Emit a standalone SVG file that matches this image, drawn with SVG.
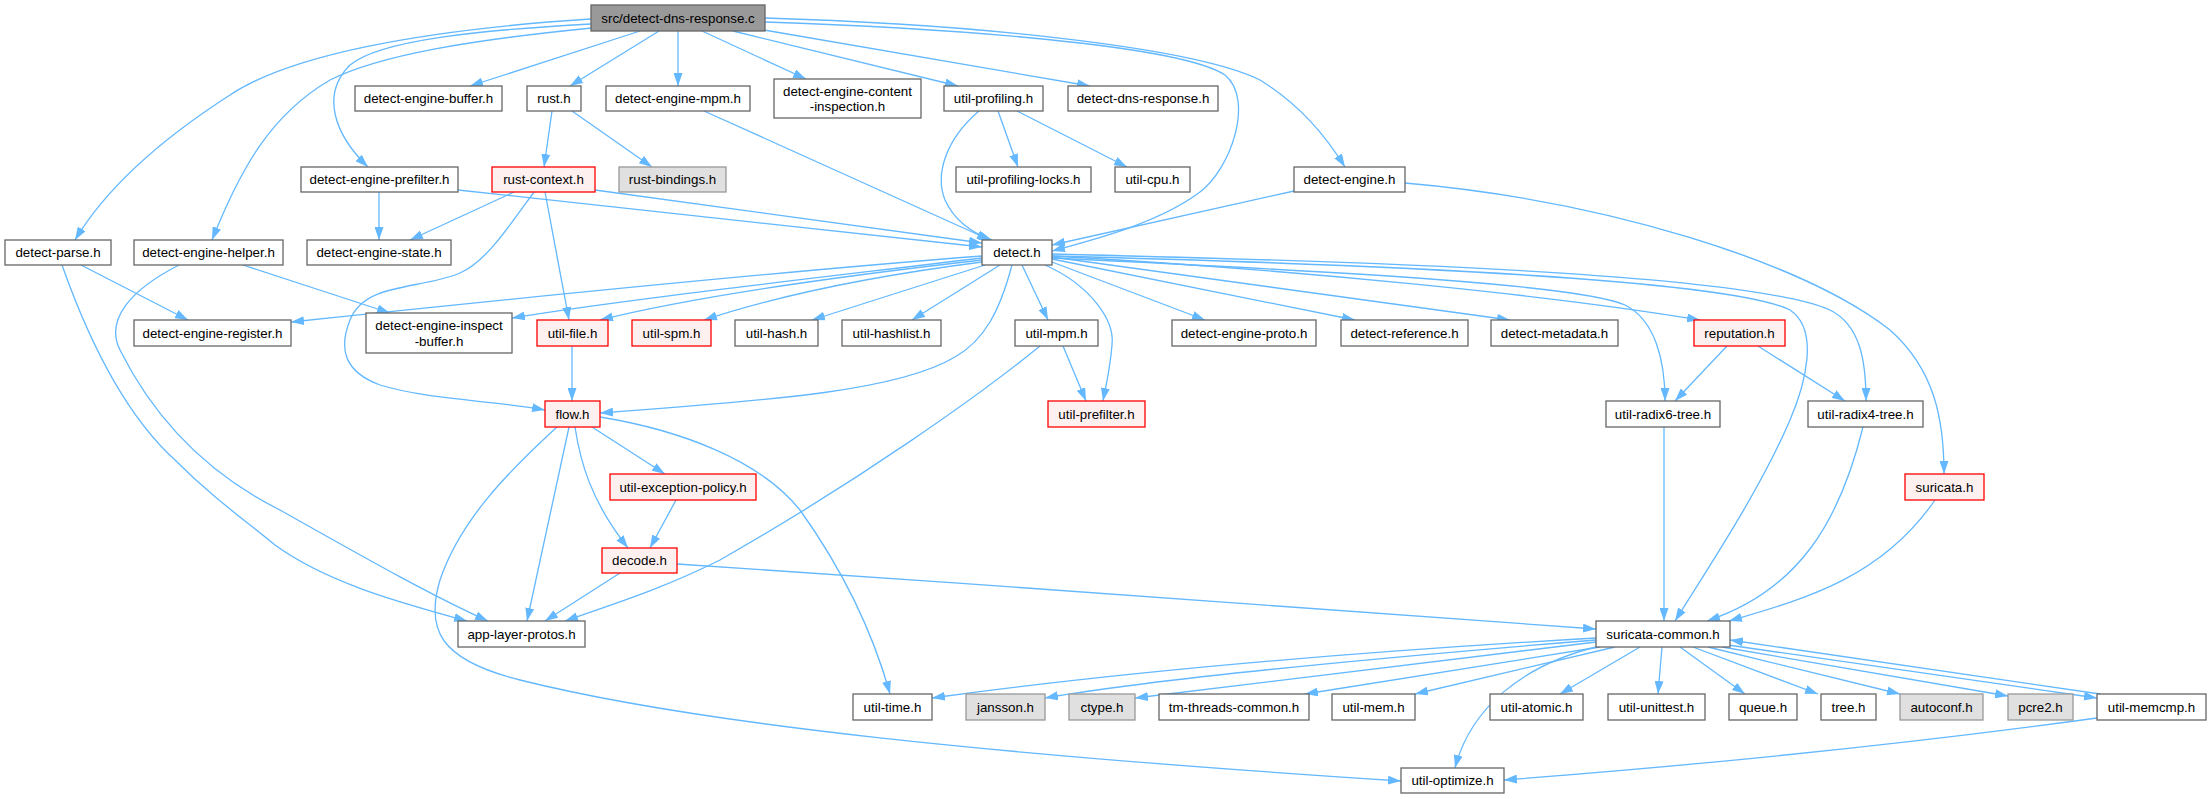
<svg xmlns="http://www.w3.org/2000/svg" width="2211" height="799" viewBox="0 0 2211 799">
<style>
.e path{fill:none;stroke:#63B8FF;stroke-width:1.3;marker-end:url(#a)}
rect{fill:#fff;stroke:#666;stroke-width:1.3}
rect.r{fill:#FFF0F0;stroke:#FF0000}
rect.g{fill:#E0E0E0;stroke:#999}
rect.root{fill:#999;stroke:#666}
text{font-family:"Liberation Sans",Arial,sans-serif;font-size:13.33px;text-anchor:middle;fill:#000}
</style>
<defs>
<marker id="a" viewBox="0 0 13 9" refX="13" refY="4.5" markerWidth="13" markerHeight="9" orient="auto" markerUnits="userSpaceOnUse"><path d="M0,0 L13,4.5 L0,9 z" fill="#63B8FF"/></marker>
</defs>
<rect x="0" y="0" width="2211" height="799" style="fill:#fff;stroke:none"/>
<g id="edges" class="e">
<path d="M591,19 C420,30 290,55 230,95 C160,140 105,190 75,240"/>
<path d="M591,24 C480,30 380,40 350,65 C320,95 335,135 368,167"/>
<path d="M592,28 C470,40 380,55 330,80 C270,115 240,170 212,240"/>
<path d="M640,31 L470,86"/>
<path d="M659,31 L570,86"/>
<path d="M678,31 L678,86"/>
<path d="M702,31 L806,79"/>
<path d="M733,31 L958,86"/>
<path d="M764,30 L1090,86"/>
<path d="M765,22 C950,28 1180,45 1225,75 C1255,100 1230,170 1200,192 C1160,222 1100,238 1052,251"/>
<path d="M765,18 C1000,25 1200,50 1260,80 C1300,105 1325,135 1345,167"/>
<path d="M552,111 L544,167"/>
<path d="M572,111 L652,167"/>
<path d="M704,111 L990,240"/>
<path d="M979,111 C945,140 935,175 945,200 C955,222 975,234 992,240"/>
<path d="M998,111 L1018,167"/>
<path d="M1017,111 L1127,167"/>
<path d="M379,192 L379,240"/>
<path d="M458,190 L982,247"/>
<path d="M595,190 L982,243"/>
<path d="M514,192 L410,240"/>
<path d="M545,192 L569,320"/>
<path d="M534,192 C505,232 485,262 460,273 C420,290 365,282 350,320 C338,350 345,372 380,385 C430,400 490,400 545,410"/>
<path d="M1294,191 L1052,245"/>
<path d="M1405,183 C1600,200 1800,260 1890,330 C1935,370 1944,420 1944,474"/>
<path d="M243,265 L390,313"/>
<path d="M179,265 C130,290 105,320 120,350 C150,410 200,470 280,510 C360,555 430,595 488,621"/>
<path d="M81,265 L188,320"/>
<path d="M62,265 C85,330 120,410 175,460 C215,500 245,520 275,545 C330,585 410,605 467,621"/>
<path d="M982,256 C800,270 500,300 291,322"/>
<path d="M982,258 C800,280 620,300 512,318"/>
<path d="M982,260 C850,275 700,295 600,320"/>
<path d="M982,262 C880,275 780,295 704,320"/>
<path d="M985,265 L812,320"/>
<path d="M1000,265 L912,320"/>
<path d="M1022,265 L1048,320"/>
<path d="M1012,265 C1000,310 985,340 955,357 C900,390 780,400 600,413"/>
<path d="M1045,265 C1090,285 1115,320 1112,345 C1110,370 1106,385 1103,401"/>
<path d="M1052,262 L1205,320"/>
<path d="M1052,259 L1355,320"/>
<path d="M1052,257 L1510,320"/>
<path d="M1052,256 C1300,270 1550,295 1700,320"/>
<path d="M1052,258 C1350,272 1580,285 1625,305 C1655,320 1665,360 1665,401"/>
<path d="M1052,254 C1400,262 1750,275 1830,310 C1860,325 1866,360 1866,401"/>
<path d="M1052,256 C1400,265 1730,280 1790,310 C1820,330 1805,385 1790,420 C1760,490 1710,565 1675,621"/>
<path d="M1727,346 L1675,401"/>
<path d="M1758,346 L1845,401"/>
<path d="M1063,346 L1086,401"/>
<path d="M1040,346 C980,395 860,480 720,560 C660,590 610,605 565,621"/>
<path d="M572,346 L572,401"/>
<path d="M592,427 L665,474"/>
<path d="M575,427 C580,460 590,500 628,548"/>
<path d="M569,427 L527,621"/>
<path d="M600,417 C680,430 760,460 800,510 C850,580 875,640 890,694"/>
<path d="M557,427 C510,470 460,520 440,580 C425,630 440,660 520,680 C700,725 1000,755 1401,781"/>
<path d="M676,500 L650,548"/>
<path d="M620,573 L545,621"/>
<path d="M677,564 C1000,585 1400,615 1596,629"/>
<path d="M1664,427 L1664,621"/>
<path d="M1863,427 C1840,520 1800,590 1707,621"/>
<path d="M1935,500 C1880,580 1800,600 1729,621"/>
<path d="M1596,638 C1300,655 1100,675 932,698"/>
<path d="M1596,640 C1350,660 1150,680 1045,698"/>
<path d="M1596,642 C1400,665 1250,685 1135,698"/>
<path d="M1600,647 L1305,694"/>
<path d="M1615,647 L1415,694"/>
<path d="M1600,646 C1520,665 1470,710 1455,768"/>
<path d="M1640,647 L1560,694"/>
<path d="M1662,647 L1658,694"/>
<path d="M1680,647 L1745,694"/>
<path d="M1693,647 L1818,694"/>
<path d="M1708,647 L1900,694"/>
<path d="M1722,647 L2008,696"/>
<path d="M1728,645 L2097,698"/>
<path d="M2100,694 L1730,640"/>
<path d="M2097,718 C1900,745 1700,765 1504,780"/>
</g>
<g id="n_root"><rect class="root" x="591" y="5" width="174" height="26"/><text x="678" y="22.5">src/detect-dns-response.c</text></g>
<g id="n_deb"><rect x="355" y="86" width="147" height="25"/><text x="428.5" y="103">detect-engine-buffer.h</text></g>
<g id="n_rust"><rect x="527" y="86" width="54" height="25"/><text x="554" y="103">rust.h</text></g>
<g id="n_mpm"><rect x="606" y="86" width="144" height="25"/><text x="678" y="103">detect-engine-mpm.h</text></g>
<g id="n_dci"><rect x="774" y="79" width="147" height="39"/><text x="847.5" y="95.5">detect-engine-content</text><text x="847.5" y="110.5">-inspection.h</text></g>
<g id="n_upr"><rect x="944" y="86" width="99" height="25"/><text x="993.5" y="103">util-profiling.h</text></g>
<g id="n_ddr"><rect x="1068" y="86" width="150" height="25"/><text x="1143" y="103">detect-dns-response.h</text></g>
<g id="n_dep"><rect x="301" y="167" width="157" height="25"/><text x="379.5" y="184">detect-engine-prefilter.h</text></g>
<g id="n_rctx"><rect class="r" x="492" y="167" width="103" height="25"/><text x="543.5" y="184">rust-context.h</text></g>
<g id="n_rb"><rect class="g" x="619" y="167" width="107" height="25"/><text x="672.5" y="184">rust-bindings.h</text></g>
<g id="n_upl"><rect x="956" y="167" width="135" height="25"/><text x="1023.5" y="184">util-profiling-locks.h</text></g>
<g id="n_ucpu"><rect x="1115" y="167" width="75" height="25"/><text x="1152.5" y="184">util-cpu.h</text></g>
<g id="n_de"><rect x="1294" y="167" width="111" height="25"/><text x="1349.5" y="184">detect-engine.h</text></g>
<g id="n_dp"><rect x="5" y="240" width="106" height="25"/><text x="58" y="257">detect-parse.h</text></g>
<g id="n_deh"><rect x="134" y="240" width="149" height="25"/><text x="208.5" y="257">detect-engine-helper.h</text></g>
<g id="n_des"><rect x="307" y="240" width="144" height="25"/><text x="379" y="257">detect-engine-state.h</text></g>
<g id="n_det"><rect x="982" y="240" width="70" height="25"/><text x="1017" y="257">detect.h</text></g>
<g id="n_der"><rect x="134" y="320" width="157" height="26"/><text x="212.5" y="337.5">detect-engine-register.h</text></g>
<g id="n_dib"><rect x="366" y="313" width="146" height="40"/><text x="439" y="330">detect-engine-inspect</text><text x="439" y="345.5">-buffer.h</text></g>
<g id="n_ufile"><rect class="r" x="537" y="320" width="71" height="26"/><text x="572.5" y="337.5">util-file.h</text></g>
<g id="n_uspm"><rect class="r" x="632" y="320" width="79" height="26"/><text x="671.5" y="337.5">util-spm.h</text></g>
<g id="n_uhash"><rect x="735" y="320" width="83" height="26"/><text x="776.5" y="337.5">util-hash.h</text></g>
<g id="n_uhl"><rect x="842" y="320" width="99" height="26"/><text x="891.5" y="337.5">util-hashlist.h</text></g>
<g id="n_umpm"><rect x="1015" y="320" width="83" height="26"/><text x="1056.5" y="337.5">util-mpm.h</text></g>
<g id="n_dept"><rect x="1172" y="320" width="144" height="26"/><text x="1244" y="337.5">detect-engine-proto.h</text></g>
<g id="n_dref"><rect x="1341" y="320" width="127" height="26"/><text x="1404.5" y="337.5">detect-reference.h</text></g>
<g id="n_dmeta"><rect x="1491" y="320" width="127" height="26"/><text x="1554.5" y="337.5">detect-metadata.h</text></g>
<g id="n_rep"><rect class="r" x="1694" y="320" width="91" height="26"/><text x="1739.5" y="337.5">reputation.h</text></g>
<g id="n_flow"><rect class="r" x="545" y="401" width="55" height="26"/><text x="572.5" y="418.5">flow.h</text></g>
<g id="n_upf"><rect class="r" x="1048" y="401" width="97" height="26"/><text x="1096.5" y="418.5">util-prefilter.h</text></g>
<g id="n_r6"><rect x="1606" y="401" width="114" height="26"/><text x="1663" y="418.5">util-radix6-tree.h</text></g>
<g id="n_r4"><rect x="1808" y="401" width="115" height="26"/><text x="1865.5" y="418.5">util-radix4-tree.h</text></g>
<g id="n_uep"><rect class="r" x="610" y="474" width="146" height="26"/><text x="683" y="491.5">util-exception-policy.h</text></g>
<g id="n_sur"><rect class="r" x="1905" y="474" width="79" height="26"/><text x="1944.5" y="491.5">suricata.h</text></g>
<g id="n_dec"><rect class="r" x="602" y="548" width="75" height="25"/><text x="639.5" y="565">decode.h</text></g>
<g id="n_alp"><rect x="458" y="621" width="127" height="26"/><text x="521.5" y="638.5">app-layer-protos.h</text></g>
<g id="n_sc"><rect x="1596" y="621" width="134" height="26"/><text x="1663" y="638.5">suricata-common.h</text></g>
<g id="n_utime"><rect x="853" y="694" width="79" height="26"/><text x="892.5" y="711.5">util-time.h</text></g>
<g id="n_jan"><rect class="g" x="966" y="694" width="79" height="26"/><text x="1005.5" y="711.5">jansson.h</text></g>
<g id="n_ctype"><rect class="g" x="1069" y="694" width="66" height="26"/><text x="1102" y="711.5">ctype.h</text></g>
<g id="n_tmt"><rect x="1159" y="694" width="150" height="26"/><text x="1234" y="711.5">tm-threads-common.h</text></g>
<g id="n_umem"><rect x="1332" y="694" width="83" height="26"/><text x="1373.5" y="711.5">util-mem.h</text></g>
<g id="n_uat"><rect x="1490" y="694" width="93" height="26"/><text x="1536.5" y="711.5">util-atomic.h</text></g>
<g id="n_uut"><rect x="1608" y="694" width="97" height="26"/><text x="1656.5" y="711.5">util-unittest.h</text></g>
<g id="n_queue"><rect x="1729" y="694" width="68" height="26"/><text x="1763" y="711.5">queue.h</text></g>
<g id="n_tree"><rect x="1821" y="694" width="55" height="26"/><text x="1848.5" y="711.5">tree.h</text></g>
<g id="n_autoconf"><rect class="g" x="1900" y="694" width="83" height="26"/><text x="1941.5" y="711.5">autoconf.h</text></g>
<g id="n_pcre2"><rect class="g" x="2008" y="694" width="65" height="26"/><text x="2040.5" y="711.5">pcre2.h</text></g>
<g id="n_umc"><rect x="2097" y="694" width="109" height="26"/><text x="2151.5" y="711.5">util-memcmp.h</text></g>
<g id="n_uopt"><rect x="1401" y="768" width="103" height="25"/><text x="1452.5" y="785">util-optimize.h</text></g>
</svg>
